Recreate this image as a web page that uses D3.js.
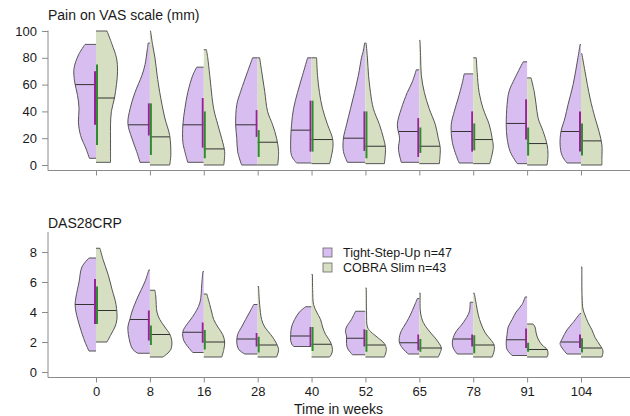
<!DOCTYPE html>
<html>
<head>
<meta charset="utf-8">
<script src="https://cdn.jsdelivr.net/npm/d3@7"></script>
<style>
  html, body { margin: 0; padding: 0; background: #ffffff; }
  svg { display: block; font-family: "Liberation Sans", Arial, sans-serif; }
</style>
</head>
<body>
<svg id="chart" width="630" height="416"></svg>
<script>
// ---------------- DATA ----------------
const weeks = ["0", "8", "16", "28", "40", "52", "65", "78", "91", "104"];
const groupNames = ["Tight-Step-Up n=47", "COBRA Slim n=43"];
const painTicks = [0, 20, 40, 60, 80, 100];
const dasTicks = [0, 2, 4, 6, 8];
const painTitle = "Pain on VAS scale (mm)";
const dasTitle = "DAS28CRP";
const xTitle = "Time in weeks";

// Violin profiles: [value, relative density (0-1)], from top to bottom
const painTSUProfiles = [
  [[90,.5],[82,.8],[72,1.0],[62,.97],[52,.84],[42,.77],[32,.8],[22,.7],[12,.45],[5,.3]],
  [[91,.08],[86,.12],[75,.22],[67,.36],[54,.68],[42,.9],[31,1.0],[20,.82],[10,.6],[2,.45]],
  [[73,.32],[67,.5],[54,.73],[42,.86],[30,.95],[17,.95],[10,.86],[2,.73]],
  [[80,.23],[70,.45],[55,.77],[45,.95],[30,1.0],[20,.95],[10,.91],[0,.73]],
  [[80,.18],[67,.41],[54,.64],[42,.82],[30,.91],[17,.95],[7,.91],[1.5,.68]],
  [[91,.04],[85,.1],[80,.18],[67,.32],[54,.5],[42,.68],[30,.86],[20,1.0],[10,1.0],[2,.82]],
  [[71,.14],[62,.32],[54,.55],[42,.82],[30,1.0],[20,.9],[12,.95],[2,.82]],
  [[68,.41],[61,.5],[50,.68],[40,.86],[30,1.0],[17,.95],[7,.77],[1.5,.64]],
  [[77,.18],[65,.55],[55,.82],[45,.91],[30,.95],[20,.91],[10,.77],[1,.45]],
  [[90,.04],[80,.14],[60,.36],[45,.59],[35,.73],[25,.91],[15,.95],[7,.86],[1.5,.64]]
];
const painCOBRAProfiles = [
  [[100,.5],[90,.73],[80,.93],[70,.98],[60,.93],[50,.84],[40,.7],[30,.66],[20,.66],[10,.66],[2,.66]],
  [[100,.03],[90,.12],[80,.23],[67,.33],[54,.45],[35,.68],[22,.9],[7,.95],[0,.9]],
  [[86,.12],[80,.18],[67,.27],[42,.45],[30,.64],[17,.86],[10,.95],[0,.91]],
  [[80,.09],[70,.18],[55,.32],[40,.45],[30,.68],[20,.86],[10,.95],[0,.91]],
  [[80,.23],[67,.27],[54,.36],[42,.5],[30,.73],[20,.95],[13,.97],[1,.82]],
  [[91,.03],[80,.09],[67,.14],[54,.23],[42,.36],[30,.64],[20,.82],[13,.91],[1,.86]],
  [[93,.03],[80,.06],[67,.09],[54,.23],[42,.45],[30,.73],[20,.86],[13,.95],[1,.91]],
  [[80,.14],[69,.18],[54,.27],[42,.45],[30,.73],[20,.86],[13,.91],[1,.75]],
  [[65,.18],[55,.32],[45,.41],[35,.5],[25,.73],[15,.91],[8,.95],[0,.91]],
  [[83,.04],[70,.18],[50,.41],[35,.64],[25,.82],[15,.95],[5,.95],[0,.95]]
];
const painTSUMedian = [60, 30, 30, 30, 26, 20, 25, 25, 31, 25];
const painCOBRAMedian = [50, 21, 12, 17, 19, 14, 14, 19, 16, 18];
const painTSUQ1 = [30, 22, 13, 21, 10, 10.5, 6, 10, 19, 10];
const painTSUQ3 = [70, 46, 50, 41, 48, 40, 35, 40, 49, 40];
const painCOBRAQ1 = [15, 7.5, 5, 6, 10, 5, 9, 11, 7, 7];
const painCOBRAQ3 = [75, 46, 40, 26, 48, 40, 28, 31, 28, 31];

const dasTSUProfiles = [
  [[7.6,.32],[7,.64],[6,.77],[5,.91],[4.5,.95],[4,.91],[3,.73],[2,.5],[1.4,.32]],
  [[6.8,.05],[6,.23],[5,.55],[4,.82],[3.5,.91],[3,1.0],[2,.91],[1.5,.77],[1.25,.55]],
  [[6.7,.04],[5.9,.09],[4.6,.18],[3.7,.5],[3.25,.73],[2.7,.95],[2.1,.91],[1.7,.73],[1.3,.5]],
  [[4.5,.18],[4,.36],[3.5,.55],[3,.73],[2.5,.91],[2,.95],[1.5,.86],[1.2,.59]],
  [[4.35,.27],[4,.55],[3.5,.77],[3,.91],[2.5,.95],[2.1,.95],[1.8,.88],[1.7,.8]],
  [[4.05,.45],[3.5,.64],[3,.86],[2.7,.91],[2.4,.86],[2,.86],[1.6,.82],[1.15,.59]],
  [[4.9,.09],[4.4,.23],[3.8,.41],[3.3,.59],[2.6,.86],[2.0,.91],[1.6,.77],[1.2,.5]],
  [[4.65,.14],[4.0,.18],[3.3,.45],[2.6,.82],[2.0,.95],[1.6,.91],[1.2,.73]],
  [[5.0,.09],[4.5,.23],[4,.5],[3.5,.68],[3,.86],[2.5,.91],[2,.95],[1.5,.91],[1.1,.68]],
  [[3.9,.05],[3.3,.36],[2.8,.64],[2.2,.86],[1.9,.95],[1.6,.86],[1.2,.64]]
];
const dasCOBRAProfiles = [
  [[8.25,.18],[7.5,.32],[6.5,.55],[5.5,.73],[4.5,.91],[3.5,.95],[3,.86],[2.5,.68],[2.0,.5]],
  [[5.45,.23],[5,.27],[4,.32],[3.5,.45],[3,.68],[2.5,.91],[2,1.0],[1.5,.95],[1.2,.77],[1.0,.59]],
  [[5.2,.14],[4.5,.27],[4,.36],[3.5,.45],[3,.64],[2.5,.86],[2,.95],[1.5,.91],[1.0,.82]],
  [[5.7,.04],[4.5,.09],[3.5,.18],[3,.32],[2.5,.59],[2,.82],[1.5,.95],[1.2,.91],[1.0,.86]],
  [[6.5,.04],[5.5,.05],[4.5,.09],[4,.23],[3.5,.41],[3,.5],[2.5,.64],[2,.86],[1.5,.95],[1.2,.91],[1.0,.82]],
  [[5.6,.04],[4,.05],[3,.09],[2.7,.23],[2.2,.64],[1.9,.86],[1.5,.95],[1.0,.86]],
  [[5.25,.04],[4,.05],[3.3,.18],[2.8,.41],[2.4,.64],[2.0,.86],[1.6,1.0],[1.3,.95],[1.0,.86]],
  [[5.25,.05],[4.5,.14],[3.8,.23],[3.2,.36],[2.6,.55],[2.2,.77],[1.8,.95],[1.4,.95],[1.0,.86]],
  [[3.2,.27],[3,.36],[2.6,.41],[2.2,.5],[1.8,.68],[1.5,.91],[1.2,.95],[1.0,.91]],
  [[7.0,.04],[5,.05],[4.2,.09],[3.8,.18],[3.3,.32],[2.8,.5],[2.3,.64],[1.8,.86],[1.4,1.0],[1.0,.95]]
];
const dasTSUMedian = [4.5, 3.5, 2.65, 2.2, 2.4, 2.25, 1.95, 2.2, 2.15, 2.0];
const dasCOBRAMedian = [4.1, 2.5, 2.0, 1.8, 1.85, 1.8, 1.6, 1.8, 1.5, 1.6];
const dasTSUQ1 = [3.2, 2.1, 1.95, 1.7, 1.7, 1.7, 1.45, 1.7, 1.6, 1.6];
const dasTSUQ3 = [6.2, 4.1, 3.3, 2.6, 3.0, 2.85, 2.5, 2.5, 2.9, 2.5];
const dasCOBRAQ1 = [3.2, 1.8, 1.5, 1.3, 1.4, 1.35, 1.35, 1.25, 1.35, 1.3];
const dasCOBRAQ3 = [5.7, 3.1, 2.8, 2.35, 3.0, 2.8, 2.2, 2.45, 1.95, 2.25];

// ---------------- STYLE ----------------
const fillTSU = "#d8bdf0";
const fillCOBRA = "#d6dfc1";
const iqrTSU = "#9a1f9a";
const iqrCOBRA = "#2e8b2e";
const outline = "#555555";
const axisCol = "#8a8a8a";
const textCol = "#1a1a1a";

const svg = d3.select("#chart");
const x = d3.scalePoint().domain(weeks).range([96, 581]);
const w = d3.scaleLinear().domain([0, 1]).range([0, 22]);

function widthAt(profile, v) {
  for (let i = 0; i < profile.length - 1; i++) {
    const a = profile[i], b = profile[i + 1];
    if (v <= a[0] && v >= b[0]) {
      const t = (a[0] - v) / (a[0] - b[0] || 1);
      return a[1] + (b[1] - a[1]) * t;
    }
  }
  return profile[profile.length - 1][1];
}

function drawPanel(cfg) {
  const g = svg.append("g");
  const y = cfg.y;

  const ya = g.append("g").attr("transform", `translate(${cfg.left},0)`)
    .call(d3.axisLeft(y).tickValues(cfg.ticks).tickSize(6).tickPadding(5).tickSizeOuter(0));
  ya.select(".domain").remove();
  ya.selectAll(".tick line").attr("stroke", axisCol);
  ya.selectAll(".tick text").attr("fill", textCol).style("font-size", "13px");
  g.append("line").attr("x1", cfg.left).attr("x2", cfg.left)
    .attr("y1", cfg.axisTop).attr("y2", cfg.axisY).attr("stroke", axisCol);

  const xa = g.append("g").attr("transform", `translate(0,${cfg.axisY})`)
    .call(d3.axisBottom(x).tickSize(5).tickPadding(4).tickSizeOuter(0)
      .tickFormat(cfg.xLabels ? (d => d) : () => ""));
  xa.select(".domain").remove();
  xa.selectAll(".tick line").attr("stroke", axisCol);
  xa.selectAll(".tick text").attr("fill", textCol).style("font-size", "13px");
  g.append("line").attr("x1", cfg.left).attr("x2", 630)
    .attr("y1", cfg.axisY).attr("y2", cfg.axisY).attr("stroke", axisCol);

  g.append("text").attr("x", cfg.left).attr("y", cfg.titleY)
    .attr("fill", textCol).style("font-size", "14px").text(cfg.title);

  const edgeLine = d3.line().curve(d3.curveCatmullRom.alpha(0.5));

  cfg.groups.forEach((grp, gi) => {
    const side = gi === 0 ? -1 : 1;
    weeks.forEach((wk, i) => {
      const cx = x(wk);
      const prof = grp.profiles[i];
      const pts = prof.map(p => [cx + side * w(p[1]), y(p[0])]);
      const topY = y(prof[0][0]);
      const botY = y(prof[prof.length - 1][0]);
      const edge = edgeLine(pts);
      const body = `M${cx},${topY}L` + edge.slice(1) + `L${cx},${botY}`;
      g.append("path").attr("d", body + "Z").attr("fill", grp.fill).attr("stroke", "none");
      g.append("path").attr("d", body).attr("fill", "none")
        .attr("stroke", outline).attr("stroke-width", 1).attr("stroke-linejoin", "round");
      const mv = grp.median[i];
      const mw = w(widthAt(prof, mv));
      g.append("line").attr("x1", cx).attr("x2", cx + side * mw)
        .attr("y1", y(mv)).attr("y2", y(mv))
        .attr("stroke", "#333333").attr("stroke-width", 1);
      g.append("line").attr("x1", cx + side * 1).attr("x2", cx + side * 1)
        .attr("y1", y(grp.q1[i])).attr("y2", y(grp.q3[i]))
        .attr("stroke", grp.iqr).attr("stroke-width", 2);
    });
  });
}

drawPanel({
  y: d3.scaleLinear().domain([0, 100]).range([165, 31]),
  ticks: painTicks, left: 48, axisTop: 30.5, axisY: 170.5, titleY: 20,
  title: painTitle, xLabels: false,
  groups: [
    { profiles: painTSUProfiles, median: painTSUMedian, q1: painTSUQ1, q3: painTSUQ3, fill: fillTSU, iqr: iqrTSU },
    { profiles: painCOBRAProfiles, median: painCOBRAMedian, q1: painCOBRAQ1, q3: painCOBRAQ3, fill: fillCOBRA, iqr: iqrCOBRA }
  ]
});

drawPanel({
  y: d3.scaleLinear().domain([0, 8]).range([372, 252]),
  ticks: dasTicks, left: 48, axisTop: 232, axisY: 377.5, titleY: 228,
  title: dasTitle, xLabels: true,
  groups: [
    { profiles: dasTSUProfiles, median: dasTSUMedian, q1: dasTSUQ1, q3: dasTSUQ3, fill: fillTSU, iqr: iqrTSU },
    { profiles: dasCOBRAProfiles, median: dasCOBRAMedian, q1: dasCOBRAQ1, q3: dasCOBRAQ3, fill: fillCOBRA, iqr: iqrCOBRA }
  ]
});

svg.append("text").attr("x", 338.5).attr("y", 413.5).attr("text-anchor", "middle")
  .attr("fill", textCol).style("font-size", "14px").text(xTitle);

const legend = svg.append("g").attr("transform", "translate(323,248)");
const legendFills = [fillTSU, fillCOBRA];
groupNames.forEach((name, i) => {
  legend.append("rect").attr("x", 0).attr("y", i * 15).attr("width", 9).attr("height", 9)
    .attr("fill", legendFills[i]).attr("stroke", "#666").attr("stroke-width", 0.8);
  legend.append("text").attr("x", 20).attr("y", i * 15 + 9)
    .attr("fill", textCol).style("font-size", "12.5px").text(name);
});
</script>
</body>
</html>
